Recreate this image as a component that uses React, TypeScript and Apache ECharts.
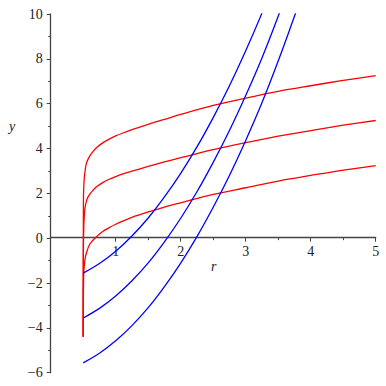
import React, { useEffect, useRef } from "react";
import * as echarts from "echarts";

// Red curves: [r, y]
const redTop: [number, number][] = [
  [0.5, -4.4], [0.503, 1.5], [0.51, 2.4], [0.525, 2.9], [0.55, 3.35], [0.6, 3.66],
  [0.65, 3.86], [0.7, 4.02], [0.8, 4.25], [0.9, 4.42], [1.0, 4.56], [1.1, 4.68], [1.25, 4.84],
  [1.5, 5.08], [1.75, 5.3], [2.0, 5.52], [2.5, 5.92], [3.0, 6.25], [3.5, 6.55], [4.0, 6.8],
  [4.5, 7.04], [5.0, 7.25],
];
const redMid: [number, number][] = [
  [0.5, -4.4], [0.503, -0.5], [0.51, 0.6], [0.52, 1.1], [0.53, 1.4], [0.56, 1.75],
  [0.6, 1.95], [0.65, 2.13], [0.7, 2.28], [0.8, 2.48], [0.9, 2.63], [1.0, 2.75], [1.1, 2.86],
  [1.25, 2.99], [1.5, 3.2], [1.75, 3.4], [2.0, 3.59], [2.5, 3.95], [3.0, 4.26], [3.5, 4.55],
  [4.0, 4.8], [4.5, 5.04], [5.0, 5.25],
];
const redBot: [number, number][] = [
  [0.5, -4.4], [0.503, -2.5], [0.51, -1.5], [0.525, -1.0], [0.55, -0.65], [0.6, -0.27],
  [0.68, 0.0], [0.8, 0.3], [0.9, 0.47], [1.0, 0.62], [1.1, 0.75], [1.25, 0.93], [1.5, 1.17],
  [1.75, 1.39], [2.0, 1.58], [2.5, 1.95], [3.0, 2.25], [3.5, 2.55], [4.0, 2.8], [4.5, 3.04],
  [5.0, 3.24],
];

// Blue curves
const blueR = [0.5, 0.75, 1.0, 1.25, 1.5, 1.75, 2.0, 2.25, 2.5, 2.75, 3.0, 3.25, 3.5, 3.75, 4.0];
const blueTopY = [-1.56, -1.13, -0.58, 0.1, 0.9, 1.84, 2.89, 4.07, 5.38, 6.8, 8.36, 10.04, 11.9];
const blueMidY = [-3.56, -3.13, -2.58, -1.9, -1.1, -0.16, 0.89, 2.07, 3.38, 4.8, 6.36, 8.04, 9.9, 11.9];
const blueBotY = [-5.56, -5.13, -4.58, -3.9, -3.1, -2.16, -1.11, 0.07, 1.38, 2.8, 4.36, 6.04, 7.9, 9.9, 12.0];

const xMin = 0, xMax = 5, xStep = 1;
const yMin = -6, yMax = 10, yStep = 2;

const FONT = "serif";
const AXIS_COLOR = "#444444";

export default function App() {
  const ref = useRef<HTMLDivElement>(null);
  useEffect(() => {
    if (!ref.current) return;
    const chart = echarts.init(ref.current, null, { renderer: "svg" });
    const pair = (ys: number[]) => ys.map((y, i) => [blueR[i], y]);
    const lineSeries = (data: number[][], color: string) => ({
      type: "line",
      data,
      showSymbol: false,
      symbol: "none",
      smooth: 0.3,
      clip: true,
      lineStyle: { color, width: 1.3 },
    });
    const labelStyle = {
      color: "#222",
      fontFamily: FONT,
      fontSize: 14,
    };
    chart.setOption({
      animation: false,
      textStyle: { fontFamily: FONT },
      grid: { left: 50.7, right: 10.3, top: 14, bottom: 13.3, containLabel: false },
      xAxis: {
        type: "value",
        min: xMin,
        max: xMax,
        interval: xStep,
        position: "bottom",
        offset: -135,
        axisLine: { onZero: false, lineStyle: { color: AXIS_COLOR, width: 1.3 } },
        axisTick: { show: true, length: 4, lineStyle: { color: AXIS_COLOR } },
        minorTick: { show: true, splitNumber: 2, length: 2.5, lineStyle: { color: AXIS_COLOR } },
        splitLine: { show: false },
        axisLabel: {
          ...labelStyle,
          margin: 7,
          formatter: (v: number) => (v === 0 ? "" : String(v)),
        },
      },
      yAxis: {
        type: "value",
        min: yMin,
        max: yMax,
        interval: yStep,
        axisLine: { onZero: false, lineStyle: { color: AXIS_COLOR, width: 1.3 } },
        axisTick: { show: true, length: 4, lineStyle: { color: AXIS_COLOR } },
        minorTick: { show: true, splitNumber: 2, length: 2.5, lineStyle: { color: AXIS_COLOR } },
        splitLine: { show: false },
        axisLabel: {
          ...labelStyle,
          margin: 8,
          formatter: (v: number) => (v < 0 ? "\u2212" + Math.abs(v) : String(v)),
        },
      },
      graphic: [
        {
          type: "text", left: 9, top: 119,
          style: { text: "y", fontFamily: FONT, fontStyle: "italic", fontSize: 14, fill: "#222" },
        },
        {
          type: "text", left: 211, top: 259,
          style: { text: "r", fontFamily: FONT, fontStyle: "italic", fontSize: 14, fill: "#222" },
        },
      ],
      series: [
        lineSeries(redTop, "#ff0000"),
        lineSeries(redMid, "#ff0000"),
        lineSeries(redBot, "#ff0000"),
        lineSeries(pair(blueTopY), "#0000ff"),
        lineSeries(pair(blueMidY), "#0000ff"),
        lineSeries(pair(blueBotY), "#0000ff"),
      ],
    });
    return () => chart.dispose();
  }, []);
  return (
    <div
      ref={ref}
      style={{ position: "fixed", left: 0, top: 0, width: 386, height: 386, background: "#fff" }}
    />
  );
}
